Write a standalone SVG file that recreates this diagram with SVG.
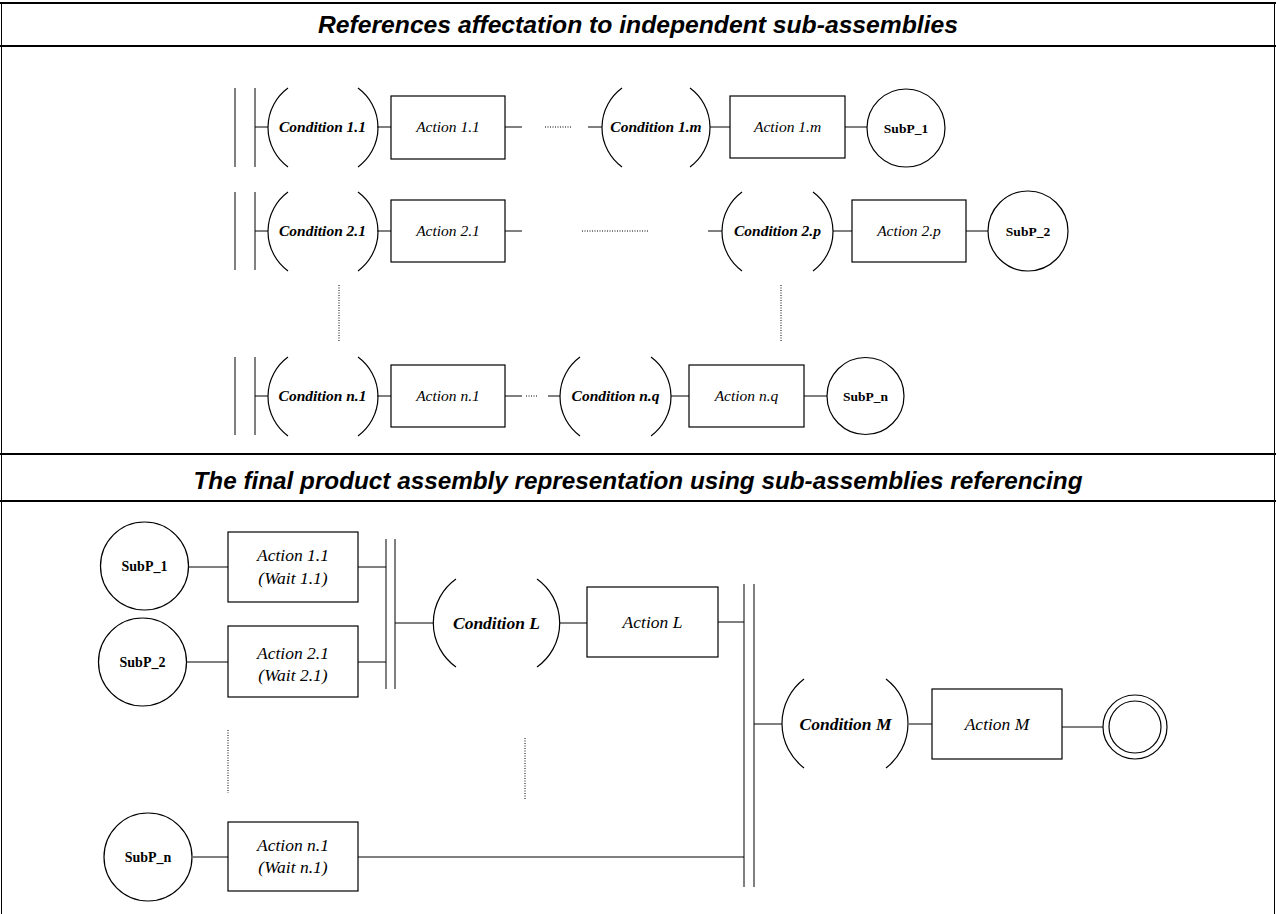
<svg xmlns="http://www.w3.org/2000/svg" width="1276" height="914" viewBox="0 0 1276 914">
<style>
.ln{stroke:#000;stroke-width:1;fill:none}
.fr{stroke:#000;stroke-width:2;fill:none}
.box{stroke:#000;stroke-width:1.2;fill:#fff}
.arc{stroke:#000;stroke-width:1.2;fill:none}
.dot{stroke:#000;stroke-width:1;stroke-dasharray:1 1.5;fill:none}
.title{font-family:"Liberation Sans",Arial,sans-serif;font-weight:bold;font-style:italic;font-size:24px;text-anchor:middle}
.c1{font-family:"Liberation Serif","Times New Roman",serif;font-weight:bold;font-style:italic;font-size:15.5px;text-anchor:middle}
.a1{font-family:"Liberation Serif","Times New Roman",serif;font-style:italic;font-size:15.5px;text-anchor:middle}
.s1{font-family:"Liberation Serif","Times New Roman",serif;font-weight:bold;font-size:13.5px;text-anchor:middle}
.c2{font-family:"Liberation Serif","Times New Roman",serif;font-weight:bold;font-style:italic;font-size:17.5px;text-anchor:middle}
.a2{font-family:"Liberation Serif","Times New Roman",serif;font-style:italic;font-size:17.5px;text-anchor:middle}
.s2{font-family:"Liberation Serif","Times New Roman",serif;font-weight:bold;font-size:14px;text-anchor:middle}
</style>
<rect x="0" y="0" width="1276" height="914" fill="#fff"/>
<g id="frame">
<line class="ln" x1="1.5" y1="3" x2="1.5" y2="914"/>
<line class="ln" x1="1274.5" y1="3" x2="1274.5" y2="914"/>
<line class="fr" x1="0" y1="3" x2="1276" y2="3"/>
<line class="fr" x1="0" y1="46" x2="1276" y2="46"/>
<line class="fr" x1="0" y1="454" x2="1276" y2="454"/>
<line class="fr" x1="0" y1="501" x2="1276" y2="501"/>
<text class="title" x="638" y="33" textLength="640" lengthAdjust="spacingAndGlyphs">References affectation to independent sub-assemblies</text>
<text class="title" x="638" y="489" textLength="889" lengthAdjust="spacingAndGlyphs">The final product assembly representation using sub-assemblies referencing</text>
</g>
<g id="connectors">
<!-- row 1 -->
<line class="ln" x1="235" y1="88" x2="235" y2="167"/>
<line class="ln" x1="255" y1="88" x2="255" y2="167"/>
<line class="ln" x1="255" y1="127" x2="268" y2="127"/>
<line class="ln" x1="377" y1="127" x2="391" y2="127"/>
<line class="ln" x1="505" y1="127" x2="522" y2="127"/>
<line class="dot" x1="545" y1="127" x2="572" y2="127"/>
<line class="ln" x1="588" y1="127" x2="602" y2="127"/>
<line class="ln" x1="710" y1="127" x2="730" y2="127"/>
<line class="ln" x1="845" y1="127" x2="867" y2="127"/>
<!-- row 2 -->
<line class="ln" x1="235" y1="192" x2="235" y2="270"/>
<line class="ln" x1="255" y1="192" x2="255" y2="270"/>
<line class="ln" x1="255" y1="231" x2="268" y2="231"/>
<line class="ln" x1="377" y1="231" x2="391" y2="231"/>
<line class="ln" x1="505" y1="231" x2="522" y2="231"/>
<line class="dot" x1="582" y1="231" x2="648" y2="231"/>
<line class="ln" x1="708" y1="231" x2="722" y2="231"/>
<line class="ln" x1="833" y1="231" x2="852" y2="231"/>
<line class="ln" x1="966" y1="231" x2="988" y2="231"/>
<!-- vertical ellipsis -->
<line class="dot" x1="339" y1="285" x2="339" y2="342"/>
<line class="dot" x1="781" y1="285" x2="781" y2="342"/>
<!-- row 3 -->
<line class="ln" x1="235" y1="357" x2="235" y2="435"/>
<line class="ln" x1="255" y1="357" x2="255" y2="435"/>
<line class="ln" x1="255" y1="396" x2="268" y2="396"/>
<line class="ln" x1="377" y1="396" x2="391" y2="396"/>
<line class="ln" x1="505" y1="396" x2="522" y2="396"/>
<line class="dot" x1="526" y1="396" x2="538" y2="396"/>
<line class="ln" x1="548" y1="396" x2="560" y2="396"/>
<line class="ln" x1="671" y1="396" x2="689" y2="396"/>
<line class="ln" x1="804" y1="396" x2="827" y2="396"/>
<!-- bottom -->
<line class="ln" x1="188" y1="567" x2="228" y2="567"/>
<line class="ln" x1="358" y1="567" x2="386" y2="567"/>
<line class="ln" x1="187" y1="662" x2="228" y2="662"/>
<line class="ln" x1="358" y1="662" x2="386" y2="662"/>
<line class="ln" x1="386" y1="539" x2="386" y2="689"/>
<line class="ln" x1="395" y1="539" x2="395" y2="689"/>
<line class="ln" x1="395" y1="623" x2="433" y2="623"/>
<line class="ln" x1="560" y1="623" x2="587" y2="623"/>
<line class="ln" x1="718" y1="622" x2="744" y2="622"/>
<line class="ln" x1="744" y1="584" x2="744" y2="887"/>
<line class="ln" x1="754" y1="584" x2="754" y2="887"/>
<line class="ln" x1="754" y1="724" x2="782" y2="724"/>
<line class="ln" x1="909" y1="724" x2="932" y2="724"/>
<line class="ln" x1="1062" y1="727" x2="1103" y2="727"/>
<line class="dot" x1="228" y1="730" x2="228" y2="793"/>
<line class="dot" x1="525" y1="738" x2="525" y2="800"/>
<line class="ln" x1="193" y1="857" x2="228" y2="857"/>
<line class="ln" x1="358" y1="857" x2="744" y2="857"/>
</g>
<!-- top section nodes -->
<g id="cond-1-1"><path class="arc" d="M288 88 A49 49 0 0 0 288 167 M358 88 A49 49 0 0 1 358 167"/><text class="c1" x="322.5" y="132">Condition 1.1</text></g>
<g id="act-1-1"><rect class="box" x="391" y="96" width="114" height="63"/><text class="a1" x="448" y="132">Action 1.1</text></g>
<g id="cond-1-m"><path class="arc" d="M622 88 A49 49 0 0 0 622 167 M690 88 A49 49 0 0 1 690 167"/><text class="c1" x="656" y="132">Condition 1.m</text></g>
<g id="act-1-m"><rect class="box" x="730" y="96" width="115" height="62"/><text class="a1" x="787.5" y="132">Action 1.m</text></g>
<g id="subp-1"><circle class="box" cx="906" cy="128" r="39"/><text class="s1" x="906" y="132.5">SubP_1</text></g>

<g id="cond-2-1"><path class="arc" d="M288 192 A49 49 0 0 0 288 271 M358 192 A49 49 0 0 1 358 271"/><text class="c1" x="322.5" y="236">Condition 2.1</text></g>
<g id="act-2-1"><rect class="box" x="391" y="200" width="114" height="62"/><text class="a1" x="448" y="236">Action 2.1</text></g>
<g id="cond-2-p"><path class="arc" d="M742 192 A49 49 0 0 0 742 271 M813 192 A49 49 0 0 1 813 271"/><text class="c1" x="777.5" y="236">Condition 2.p</text></g>
<g id="act-2-p"><rect class="box" x="852" y="200" width="114" height="62"/><text class="a1" x="909" y="236">Action 2.p</text></g>
<g id="subp-2"><circle class="box" cx="1028" cy="231" r="40"/><text class="s1" x="1028" y="235.5">SubP_2</text></g>

<g id="cond-n-1"><path class="arc" d="M288 357 A49 49 0 0 0 288 436 M358 357 A49 49 0 0 1 358 436"/><text class="c1" x="322.5" y="401">Condition n.1</text></g>
<g id="act-n-1"><rect class="box" x="391" y="365" width="114" height="62"/><text class="a1" x="448" y="401">Action n.1</text></g>
<g id="cond-n-q"><path class="arc" d="M580 357 A49 49 0 0 0 580 436 M651 357 A49 49 0 0 1 651 436"/><text class="c1" x="615.5" y="401">Condition n.q</text></g>
<g id="act-n-q"><rect class="box" x="689" y="365" width="115" height="62"/><text class="a1" x="746.5" y="401">Action n.q</text></g>
<g id="subp-n"><circle class="box" cx="865.5" cy="396" r="38.5"/><text class="s1" x="865.5" y="400.5">SubP_n</text></g>

<!-- bottom section nodes -->
<g id="b-subp-1"><circle class="box" cx="144.5" cy="566" r="44"/><text class="s2" x="144.5" y="571">SubP_1</text></g>
<g id="b-act-1-1"><rect class="box" x="228" y="532" width="130" height="70"/><text class="a2" x="293" y="561">Action 1.1</text><text class="a2" x="293" y="584">(Wait 1.1)</text></g>
<g id="b-subp-2"><circle class="box" cx="142.5" cy="662" r="44"/><text class="s2" x="142.5" y="667">SubP_2</text></g>
<g id="b-act-2-1"><rect class="box" x="228" y="626" width="130" height="71"/><text class="a2" x="293" y="659">Action 2.1</text><text class="a2" x="293" y="681">(Wait 2.1)</text></g>
<g id="b-cond-l"><path class="arc" d="M456 579 A54 54 0 0 0 456 667 M537 579 A54 54 0 0 1 537 667"/><text class="c2" x="496.5" y="629">Condition L</text></g>
<g id="b-act-l"><rect class="box" x="587" y="587" width="131" height="70"/><text class="a2" x="652.5" y="628">Action L</text></g>
<g id="b-cond-m"><path class="arc" d="M804 679 A56 56 0 0 0 804 768 M886 679 A56 56 0 0 1 886 768"/><text class="c2" x="845.5" y="730">Condition M</text></g>
<g id="b-act-m"><rect class="box" x="932" y="689" width="130" height="70"/><text class="a2" x="997" y="730">Action M</text></g>
<g id="b-end"><circle class="box" cx="1135" cy="727" r="32"/><circle class="box" cx="1135" cy="727" r="26"/></g>
<g id="b-subp-n"><circle class="box" cx="148" cy="857" r="44"/><text class="s2" x="148" y="862">SubP_n</text></g>
<g id="b-act-n-1"><rect class="box" x="228" y="822" width="130" height="69"/><text class="a2" x="293" y="851">Action n.1</text><text class="a2" x="293" y="873">(Wait n.1)</text></g>
</svg>
